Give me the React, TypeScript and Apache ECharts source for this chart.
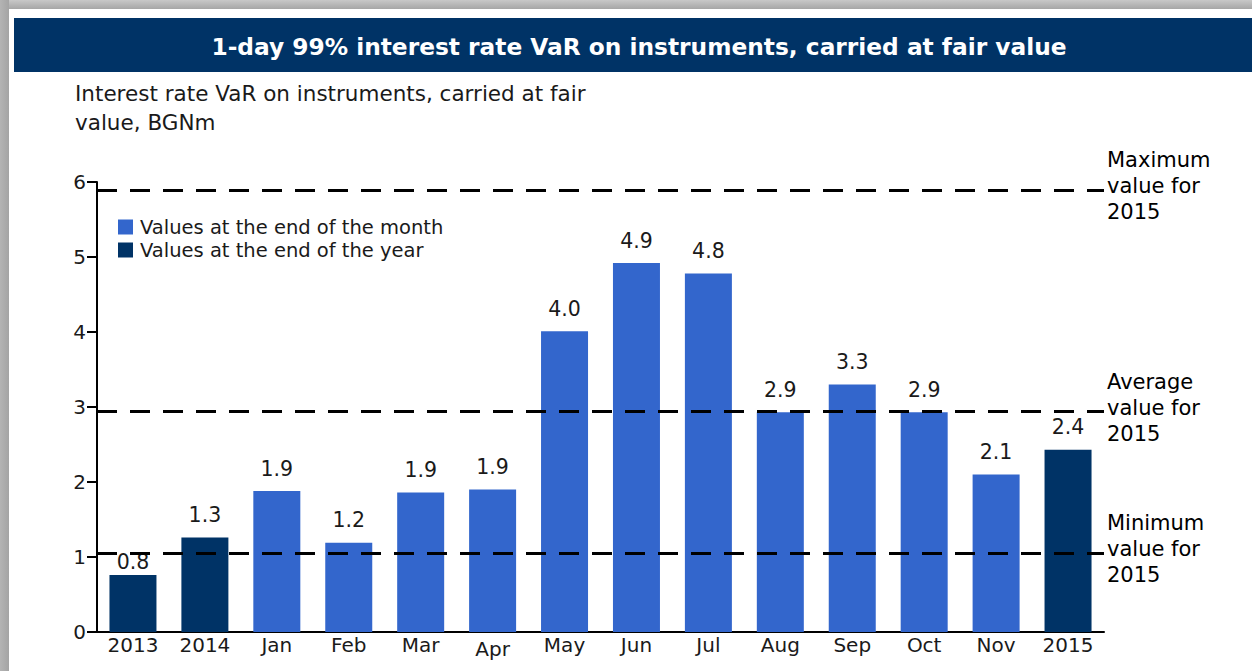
import React, { useEffect, useRef } from "react";
import * as echarts from "echarts";

const categories = ["2013", "2014", "Jan", "Feb", "Mar", "Apr", "May", "Jun", "Jul", "Aug", "Sep", "Oct", "Nov", "2015"];
const isYearEnd = [true, true, false, false, false, false, false, false, false, false, false, false, false, true];
const values = [0.76, 1.26, 1.88, 1.19, 1.86, 1.9, 4.01, 4.92, 4.78, 2.93, 3.3, 2.93, 2.1, 2.43];
const yTicks = [0, 1, 2, 3, 4, 5, 6];
const maxValue2015 = 5.89;
const avgValue2015 = 2.94;
const minValue2015 = 1.05;
const refLabels = ["Maximum\nvalue for\n2015", "Average\nvalue for\n2015", "Minimum\nvalue for\n2015"];
const titleText = "1-day 99% interest rate VaR on instruments, carried at fair value";
const subtitleText = "Interest rate VaR on instruments, carried at fair\nvalue, BGNm";
const seriesNames = ["Values at the end of the month", "Values at the end of the year"];

const FONT = "DejaVu Sans";
const MONTH_COLOR = "#3366CC";
const YEAR_COLOR = "#003366";

export default function App() {
  const ref = useRef<HTMLDivElement>(null);
  useEffect(() => {
    if (!ref.current) return;
    const chart = echarts.init(ref.current, null, { renderer: "svg" });
    const mkData = (year: boolean) =>
      values.map((v, i) => {
        if (isYearEnd[i] !== year) return null;
        const item: any = { value: v };
        if (i === 0) item.label = { distance: 3 };
        return item;
      });
    const barLabel = {
      show: true,
      position: "top",
      distance: 12,
      fontFamily: FONT,
      fontSize: 20.5,
      color: "#1a1a1a",
      formatter: (p: any) => Number(p.value).toFixed(1),
    };
    const refLine = (v: number, text: string) => ({
      yAxis: v,
      label: { formatter: text },
    });
    chart.setOption({
      animation: false,
      backgroundColor: "#ffffff",
      title: {
        text: titleText,
        left: 634,
        top: 30,
        textAlign: "center",
        textStyle: { color: "#ffffff", fontFamily: FONT, fontSize: 23.3, fontWeight: "bold" },
      },
      graphic: [
        {
          type: "rect",
          z: -10,
          shape: { x: 0, y: 0, width: 1252, height: 9 },
          style: {
            fill: new echarts.graphic.LinearGradient(0, 0, 0, 1, [
              { offset: 0, color: "#c8c8c8" },
              { offset: 1, color: "#a6a6a6" },
            ]),
          },
        },
        {
          type: "rect",
          z: -10,
          shape: { x: 0, y: 0, width: 9, height: 671 },
          style: {
            fill: new echarts.graphic.LinearGradient(0, 0, 1, 0, [
              { offset: 0, color: "#b4b4b4" },
              { offset: 1, color: "#a4a4a4" },
            ]),
          },
        },
        {
          type: "rect",
          z: -5,
          shape: { x: 14, y: 18, width: 1238, height: 54 },
          style: { fill: YEAR_COLOR },
        },
        {
          type: "text",
          x: 75,
          y: 79,
          style: {
            text: subtitleText,
            fontFamily: FONT,
            fontSize: 21.5,
            lineHeight: 29,
            fill: "#1a1a1a",
            verticalAlign: "top",
          },
        },
      ],
      legend: {
        orient: "vertical",
        left: 113,
        top: 212,
        itemWidth: 15,
        itemHeight: 15,
        itemGap: 3,
        icon: "rect",
        textStyle: { fontFamily: FONT, fontSize: 19.5, color: "#1a1a1a", padding: [0, 0, 0, 2] },
        data: seriesNames,
      },
      grid: { left: 97, top: 182, width: 1007, height: 450, containLabel: false },
      xAxis: {
        type: "category",
        data: categories.map((c) =>
          c === "Apr" ? { value: c, textStyle: { padding: [4, 0, 0, 0] } } : c
        ),
        axisLine: { show: true, lineStyle: { color: "#000", width: 2 } },
        axisTick: { show: false },
        axisLabel: { fontFamily: FONT, fontSize: 20, color: "#1a1a1a", margin: 3, interval: 0 },
        splitLine: { show: false },
      },
      yAxis: {
        type: "value",
        min: yTicks[0],
        max: yTicks[yTicks.length - 1],
        interval: 1,
        axisLine: { show: true, lineStyle: { color: "#000", width: 2 } },
        axisTick: { show: true, length: 10, lineStyle: { color: "#000", width: 2 } },
        axisLabel: {
          fontFamily: FONT,
          fontSize: 20,
          color: "#1a1a1a",
          margin: 11,
          padding: [0, 0, 5, 0],
        },
        splitLine: { show: false },
      },
      series: [
        {
          name: seriesNames[0],
          type: "bar",
          barWidth: 47,
          barGap: "-100%",
          itemStyle: { color: MONTH_COLOR },
          label: barLabel,
          data: mkData(false),
          markLine: {
            silent: true,
            symbol: "none",
            lineStyle: { color: "#000", width: 3, type: [20, 13] },
            label: {
              position: "end",
              distance: 3,
              fontFamily: FONT,
              fontSize: 21,
              lineHeight: 26,
              color: "#000",
              align: "left",
              offset: [0, -4],
            },
            data: [
              refLine(maxValue2015, refLabels[0]),
              refLine(avgValue2015, refLabels[1]),
              refLine(minValue2015, refLabels[2]),
            ],
            z: 10,
          },
        },
        {
          name: seriesNames[1],
          type: "bar",
          barWidth: 47,
          barGap: "-100%",
          itemStyle: { color: YEAR_COLOR },
          label: barLabel,
          data: mkData(true),
        },
      ],
    });
    return () => chart.dispose();
  }, []);
  return (
    <div
      ref={ref}
      style={{ position: "fixed", left: 0, top: 0, width: 1252, height: 671 }}
    />
  );
}
